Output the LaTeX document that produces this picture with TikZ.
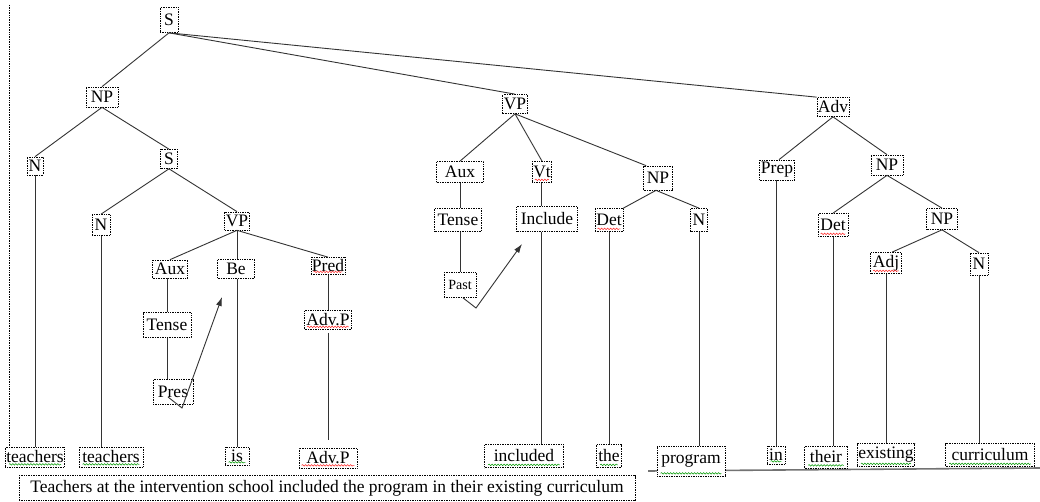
\documentclass[tikz,border=0pt]{standalone}
\usepackage{fontspec}
\setmainfont{Liberation Serif}
\usetikzlibrary{arrows.meta,decorations.pathmorphing}
\tikzset{
  cat/.style={draw, densely dotted, line width=0.7pt, fill=white, inner sep=1pt, font=\fontsize{17.5}{19}\selectfont},
  edge/.style={draw=black!80, line width=0.9pt},
  tip/.style={edge, -{Latex[length=9pt,width=6pt]}},
  redsq/.style={draw=red!85, line width=0.5pt, decorate, decoration={snake, segment length=3pt, amplitude=0.8pt}},
  greensq/.style={draw=green!60!black, line width=0.5pt, decorate, decoration={snake, segment length=3pt, amplitude=0.8pt}},
  sep/.style={draw=black, densely dotted, line width=0.7pt}
}
\begin{document}
\begin{tikzpicture}[x=1pt,y=-1pt]
\useasboundingbox (0,0) rectangle (1040,502);
\draw[sep] (9,5) -- (9,448);
\draw[draw=black!55, line width=1.6pt] (648,471) -- (1040,468);

% left subtree
\node[cat, minimum width=18pt, minimum height=25pt] (S) at (169,20) {S};
\node[cat, minimum width=32pt, minimum height=20pt] (NP1) at (102,97) {NP};
\node[cat, minimum width=16pt, minimum height=18pt] (N1) at (35,166) {N};
\node[cat, minimum width=17pt, minimum height=19pt] (S2) at (169,159) {S};
\node[cat, minimum width=18pt, minimum height=21pt] (N2) at (101,225) {N};
\node[cat, minimum width=21pt, minimum height=18pt] (VP2) at (237,221) {VP};
\node[cat, minimum width=35pt, minimum height=18pt] (Aux1) at (170,269) {Aux};
\node[cat, minimum width=37pt, minimum height=19pt] (Be) at (236,269) {Be};
\node[cat, minimum width=33pt, minimum height=17pt] (Pred) at (328,266) {Pred};
\node[cat, minimum width=47pt, minimum height=19pt] (AdvP1) at (328,320) {Adv.P};
\node[cat, minimum width=48pt, minimum height=25pt] (Tense1) at (167,325) {Tense};
\node[cat, minimum width=40pt, minimum height=25pt] (Pres) at (173,392) {Pres};
\node[cat, minimum width=57pt, minimum height=20pt] (teachers1) at (35,457) {teachers};
\node[cat, minimum width=64pt, minimum height=20pt] (teachers2) at (111,457) {teachers};
\node[cat, minimum width=24pt, minimum height=18pt] (is) at (237,456) {is};
\node[cat, minimum width=58pt, minimum height=20pt] (AdvP2) at (328,458) {Adv.P};
\node[cat, minimum width=616pt, minimum height=25pt] (sent) at (327,488) {Teachers at the intervention school included the program in their existing curriculum};

% middle subtree
\node[cat, minimum width=23pt, minimum height=19pt] (VP) at (515,104) {VP};
\node[cat, minimum width=47pt, minimum height=21pt] (Aux2) at (460,172) {Aux};
\node[cat, minimum width=18pt, minimum height=21pt] (Vt) at (542,172) {Vt};
\node[cat, minimum width=29pt, minimum height=24pt] (NP3) at (658,178) {NP};
\node[cat, minimum width=47pt, minimum height=23pt] (Tense2) at (458,220) {Tense};
\node[cat, minimum width=61pt, minimum height=25pt] (Include) at (547,219) {Include};
\node[cat, minimum width=28pt, minimum height=23pt] (Det1) at (609,220) {Det};
\node[cat, minimum width=17pt, minimum height=23pt] (N3) at (699,220) {N};
\node[cat, minimum width=32pt, minimum height=25pt, font=\fontsize{14}{16}\selectfont] (Past) at (460,285) {Past};
\node[cat, minimum width=79pt, minimum height=23pt] (included) at (524,456) {included};
\node[cat, minimum width=25pt, minimum height=23pt] (the) at (609,456) {the};
\node[cat, minimum width=68pt, minimum height=30pt] (program) at (691,461) {program};

% right subtree
\node[cat, minimum width=30pt, minimum height=19pt] (Adv) at (833,107) {Adv};
\node[cat, minimum width=35pt, minimum height=20pt] (Prep) at (777,170) {Prep};
\node[cat, minimum width=32pt, minimum height=20pt] (NP4) at (887,165) {NP};
\node[cat, minimum width=30pt, minimum height=23pt] (Det2) at (833,225) {Det};
\node[cat, minimum width=31pt, minimum height=21pt] (NP5) at (942,219) {NP};
\node[cat, minimum width=31pt, minimum height=21pt] (Adj) at (886,263) {Adj};
\node[cat, minimum width=18pt, minimum height=22pt] (N4) at (979,264) {N};
\node[cat, minimum width=18pt, minimum height=18pt] (in) at (776,455) {in};
\node[cat, minimum width=43pt, minimum height=22pt] (their) at (826,457) {their};
\node[cat, minimum width=57pt, minimum height=23pt] (existing) at (886,455) {existing};
\node[cat, minimum width=89pt, minimum height=23pt] (curriculum) at (990,455) {curriculum};

% edges
\path[edge] (S.south) -- (NP1.north);
\path[edge] (S.south) -- (VP.north);
\path[edge] (S.south) -- (Adv.north west);
\path[edge] (NP1.south) -- (N1.north);
\path[edge] (NP1.south) -- (S2.north);
\path[edge] (N1.south) -- (N1.south |- teachers1.north);
\path[edge] (S2.south) -- (N2.north);
\path[edge] (S2.south) -- (VP2.north);
\path[edge] (N2.south) -- (N2.south |- teachers2.north);
\path[edge] (VP2.south) -- (Aux1.north);
\path[edge] (VP2.south) -- (VP2.south |- Be.north);
\path[edge] (VP2.south) -- (Pred.north);
\path[edge] (VP2.south |- Be.south) -- (VP2.south |- is.north);
\path[edge] (Aux1.south -| Tense1.north) -- (Tense1.north);
\path[edge] (Tense1.south) -- (Tense1.south |- Pres.north);
\path[edge] (Pred.south) -- (AdvP1.north);
\path[edge] ([yshift=-3pt]AdvP1.south) -- ([yshift=8pt]AdvP2.north);

\path[edge] (VP.south) -- (Aux2.north);
\path[edge] (VP.south) -- (Vt.north);
\path[edge] (VP.south) -- ([xshift=3pt]NP3.north west);
\path[edge] (Aux2.south) -- (Aux2.south |- Tense2.north);
\path[edge] (Aux2.south |- Tense2.south) -- (Aux2.south |- Past.north);
\path[edge] ([xshift=-1pt]Vt.south) -- ([xshift=-1pt]Vt.south |- Include.north);
\path[edge] ([xshift=-1pt]Vt.south |- Include.south) -- ([xshift=-1pt]Vt.south |- included.north);
\path[edge] ([xshift=-2pt]NP3.south) -- (Det1.north east);
\path[edge] ([xshift=-2pt]NP3.south) -- (N3.north);
\path[edge] (Det1.south) -- (Det1.south |- the.north);
\path[edge] (N3.south) -- (N3.south |- program.north);

\path[edge] (Adv.south) -- ([xshift=2pt]Prep.north);
\path[edge] (Adv.south) -- (NP4.north);
\path[edge] (Prep.south -| in.north) -- (in.north);
\path[edge] (NP4.south) -- (Det2.north);
\path[edge] (NP4.south) -- (NP5.north);
\path[edge] (Det2.south) -- (Det2.south |- their.north);
\path[edge] (NP5.south) -- ([xshift=6pt]Adj.north);
\path[edge] (NP5.south) -- (N4.north);
\path[edge] (Adj.south) -- (Adj.south |- existing.north);
\path[edge] (N4.south) -- (N4.south |- curriculum.north);

% movement arrows
\coordinate (presturn) at (182,408);
\coordinate (betip) at (222,297);
\path[tip] ([shift={(-5,5)}]Pres.center) -- (presturn) -- (betip);
\coordinate (pastturn) at (476,308);
\coordinate (includetip) at (522,244);
\path[tip] ([xshift=3pt]Past.south) -- (pastturn) -- (includetip);

% spelling squiggles
\foreach \n in {Pred,AdvP1,AdvP2,Vt,Det1,Det2,Adj}
  \path[redsq] ([shift={(3,-3)}]\n.south west) -- ([shift={(-3,-3)}]\n.south east);
\foreach \n in {teachers1,teachers2,is,included,the,program,in,their,existing,curriculum}
  \path[greensq] ([shift={(4,-3)}]\n.south west) -- ([shift={(-4,-3)}]\n.south east);
\end{tikzpicture}
\end{document}
